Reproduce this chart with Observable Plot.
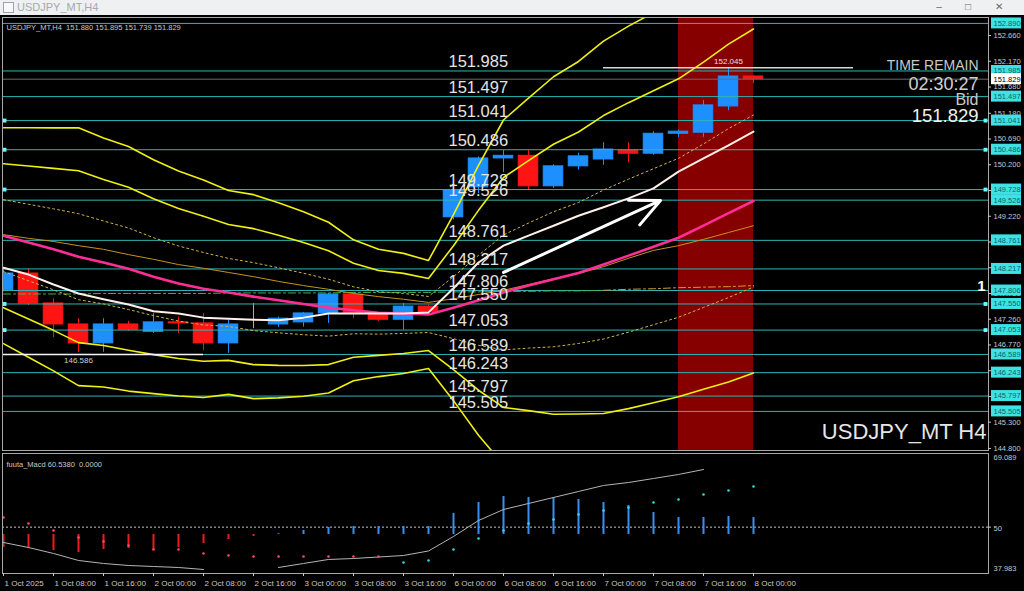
<!DOCTYPE html>
<html>
<head>
<meta charset="utf-8">
<script src="https://cdn.jsdelivr.net/npm/d3@7"></script>
<script src="https://cdn.jsdelivr.net/npm/@observablehq/plot@0.6"></script>
<style>
html,body{margin:0;padding:0;background:#000;width:1024px;height:591px;overflow:hidden;font-family:"Liberation Sans",Arial,sans-serif}
#tb{position:absolute;left:0;top:0;width:1024px;height:15px;background:#eef0f2;}
#ic{position:absolute;left:3px;top:2px;width:9px;height:9px;border:1px solid #9aa4b0;background:#f8f8f8}
#tt{position:absolute;left:17px;top:1px;font-size:11px;line-height:13px;color:#a4a9ae}
.bt{position:absolute;top:1px;width:22px;height:12px;font-size:10px;line-height:12px;text-align:center;color:#6a6a6a}
#main{position:absolute;left:0;top:15px}
#osc{position:absolute;left:0;top:452px}
</style>
</head>
<body>
<div id="tb">
  <div id="ic"></div>
  <div id="tt">USDJPY_MT,H4</div>
  <div class="bt" style="left:928px">&#8211;</div>
  <div class="bt" style="left:957px">&#9633;</div>
  <div class="bt" style="left:988px">&#10005;</div>
</div>
<div id="main"></div>
<div id="osc"></div>
<script>
// ---------- data (H4 bars, index 0 = 1 Oct 2025 00:00) ----------
const tickLabels = ["1 Oct 2025","1 Oct 08:00","1 Oct 16:00","2 Oct 00:00","2 Oct 08:00","2 Oct 16:00","3 Oct 00:00","3 Oct 08:00","3 Oct 16:00","6 Oct 00:00","6 Oct 08:00","6 Oct 16:00","7 Oct 00:00","7 Oct 08:00","7 Oct 16:00","8 Oct 00:00"];
const opens  = [147.81,148.13,147.56,147.16,146.80,147.16,147.02,147.20,147.18,146.80,147.18,147.16,147.20,147.37,147.73,147.35,147.25,147.50,149.20,149.77,150.32,150.37,149.79,150.17,150.30,150.47,150.41,150.79,150.81,151.31,151.880];
const highs  = [148.22,148.22,147.65,147.27,147.27,147.22,147.37,147.30,147.37,147.24,147.56,147.30,147.39,147.75,147.77,147.37,147.56,147.53,149.76,150.35,150.47,150.47,150.20,150.42,150.62,150.62,150.83,150.86,151.42,152.045,151.895];
const lows   = [147.78,147.52,146.91,146.63,146.63,147.03,146.99,146.99,146.66,146.61,147.08,147.10,147.11,147.18,147.27,147.22,147.05,147.35,149.15,149.65,150.05,149.72,149.75,150.10,150.19,150.24,150.38,150.72,150.72,151.23,151.739];
const closes = [148.13,147.56,147.16,146.80,147.16,147.06,147.20,147.18,146.80,147.16,147.18,147.27,147.37,147.73,147.37,147.25,147.50,147.40,149.71,150.32,150.37,149.79,150.17,150.36,150.49,150.41,150.79,150.83,151.33,151.88,151.829];

// Bollinger middle (magenta) and sigma
const bbMid   = [148.85,148.72,148.59,148.45,148.34,148.22,148.07,147.94,147.84,147.77,147.69,147.62,147.55,147.48,147.43,147.38,147.37,147.35,147.48,147.62,147.77,147.90,148.02,148.14,148.30,148.47,148.64,148.81,149.04,149.28,149.51];
const bbSigma = [0.685,0.728,0.771,0.818,0.790,0.776,0.742,0.714,0.690,0.647,0.647,0.619,0.585,0.542,0.447,0.404,0.381,0.343,0.590,0.856,1.094,1.190,1.285,1.342,1.418,1.456,1.485,1.513,1.556,1.608,1.637];
const maFast  = [148.24,148.11,147.92,147.75,147.64,147.54,147.41,147.37,147.29,147.27,147.25,147.24,147.29,147.37,147.37,147.37,147.37,147.39,147.85,148.34,148.66,148.85,149.04,149.23,149.39,149.56,149.75,150.07,150.32,150.57,150.83];
const maSlow  = [148.87,148.80,148.74,148.66,148.59,148.49,148.40,148.30,148.23,148.15,148.07,147.98,147.90,147.83,147.75,147.69,147.64,147.58,147.65,147.73,147.81,147.92,148.03,148.13,148.26,148.42,148.57,148.66,148.78,148.91,149.04];
const maLong  = [147.74,147.74,147.74,147.74,147.75,147.75,147.75,147.75,147.75,147.76,147.76,147.76,147.76,147.76,147.77,147.77,147.77,147.77,147.78,147.78,147.79,147.79,147.80,147.80,147.81,147.83,147.84,147.86,147.87,147.88,147.90];
const maLongTurn = 24;

const levels = [152.890,151.985,151.497,151.041,150.486,149.728,149.526,148.761,148.217,147.806,147.550,147.053,146.589,146.243,145.797,145.505];
const labelledLevels = levels.slice(1);
const markedLevels = [151.041,150.486,149.728,147.550,147.053];
const bidPrice = 151.829;
const yTicks = [152.660,152.170,151.680,151.180,150.690,150.200,149.710,149.220,148.730,148.240,147.750,147.260,146.770,146.280,145.790,145.300,144.800];
const redZone = [{from: 27, to: 30}];
const highLine = [{from: 24, to: 34, value: 152.045, labelAt: 29}];
const lowLine  = [{from: 0, to: 8, value: 146.586, labelAt: 3}];
const trendArrow = [{x1: 20, y1: 148.15, x2: 26.28, y2: 149.52}];
const infoText = "USDJPY_MT,H4  151.880 151.895 151.739 151.829";

// oscillator panel
const oscHist   = [44.72,44.47,43.95,43.43,44.21,44.47,43.95,44.72,45.76,46.80,47.58,48.30,49.13,49.91,50.17,50.17,50.17,50.17,53.54,56.39,57.94,57.68,57.68,57.17,56.39,55.61,53.80,52.50,52.50,52.76,52.50];
const histBase  = 48.1;
const oscSignal = [52.50,50.94,49.13,47.32,46.28,45.24,44.21,44.21,43.17,42.65,42.39,42.39,42.39,42.39,42.39,42.39,40.84,41.36,44.21,47.06,49.13,50.94,51.98,53.28,54.32,55.09,56.39,57.17,58.46,59.50,60.538];
const signalTurn = 16;
const oscLine   = [46.02,44.72,43.17,41.36,40.58,40.06,39.80,39.54,39.02,null,null,39.54,40.58,41.62,41.87,42.26,42.65,43.82,47.58,51.72,54.57,56.13,57.69,59.24,60.80,61.57,62.61,63.65,64.94,null,null];
const oscRange  = [37.983, 69.089];
const oscLabel  = "fuuta_Macd 60.5380  0.0000";

// ---------- build ----------
const X_DOMAIN = [-0.04, 39.4];
const X_MAX = X_DOMAIN[1];
const Y_DOMAIN = [144.761, 153.003];
const FONT = "Liberation Sans, Arial, sans-serif";

const bars = opens.map((o, i) => ({k: i, open: o, high: highs[i], low: lows[i], close: closes[i]}));
const candleColor = d => d.close > d.open ? "#1e8fff" : d.close < d.open ? "#ff1414" : "#8fb0d8";
const bb = bbMid.map((m, i) => ({k: i, mid: m, s: bbSigma[i]}));
const rows = arr => arr.map((v, i) => ({k: i, v}));

const YEL = "#f0f012", DOT = "#d2b448";
const bbLine = (n, opts) => Plot.line(bb, {x: "k", y: d => d.mid + n * d.s, clip: true, ...opts});

const main = Plot.plot({
  width: 1024, height: 437,
  marginLeft: 2, marginRight: 36, marginTop: 2, marginBottom: 2,
  x: {domain: X_DOMAIN, axis: null},
  y: {domain: Y_DOMAIN, axis: null},
  style: {background: "#000", color: "#c8c8c8", fontFamily: FONT, overflow: "visible"},
  marks: [
    Plot.rect(redZone, {x1: "from", x2: "to", fill: "#860000"}),
    Plot.ruleX(bars, {x: "k", y1: "low", y2: "high", stroke: candleColor, strokeWidth: 1, clip: true}),
    Plot.rect(bars, {x1: d => d.k - 0.39, x2: d => d.k + 0.39, y1: "open", y2: "close", fill: candleColor, stroke: candleColor, strokeWidth: 1, clip: true}),
    Plot.ruleY(levels, {stroke: "#2db5b5", strokeWidth: 1}),
    Plot.ruleY([bidPrice], {stroke: "#6c6c6c", strokeWidth: 1}),
    Plot.line(rows(maLong).filter(d => d.k <= maLongTurn), {x: "k", y: "v", stroke: "#4fb04f", strokeWidth: 1, strokeDasharray: "7,3,2,3"}),
    Plot.line(rows(maLong).filter(d => d.k >= maLongTurn), {x: "k", y: "v", stroke: "#d89a30", strokeWidth: 1, strokeDasharray: "7,3,2,3"}),
    Plot.line(rows(maSlow), {x: "k", y: "v", stroke: "#c8921e", strokeWidth: 1}),
    bbLine(1, {stroke: DOT, strokeWidth: 1, strokeDasharray: "2,3"}),
    bbLine(-1, {stroke: DOT, strokeWidth: 1, strokeDasharray: "2,3"}),
    bbLine(2, {stroke: YEL, strokeWidth: 1.6}),
    bbLine(-2, {stroke: YEL, strokeWidth: 1.6}),
    bbLine(3, {stroke: YEL, strokeWidth: 1.6}),
    bbLine(-3, {stroke: YEL, strokeWidth: 1.6}),
    bbLine(0, {stroke: "#ff2e96", strokeWidth: 2.6}),
    Plot.line(rows(maFast), {x: "k", y: "v", stroke: "#fff0ea", strokeWidth: 2}),
    // price marks
    Plot.ruleY(highLine, {y: "value", x1: "from", x2: "to", stroke: "#d8d8d8", strokeWidth: 1.5}),
    Plot.text(highLine, {x: "labelAt", y: "value", text: d => d.value.toFixed(3), dy: -6, fontSize: 8, fill: "#e0e0e0"}),
    Plot.ruleY(lowLine, {y: "value", x1: "from", x2: "to", stroke: "#f4f4f4", strokeWidth: 1.5}),
    Plot.text(lowLine, {x: "labelAt", y: "value", text: d => d.value.toFixed(3), dy: 6, fontSize: 8, fill: "#d0d0d0"}),
    Plot.arrow(trendArrow, {x1: "x1", y1: "y1", x2: "x2", y2: "y2", stroke: "#ffffff", strokeWidth: 3, headLength: 16, headAngle: 50}),
    Plot.text(labelledLevels, {x: 18, y: d => d, dx: -5, dy: -9, text: d => d.toFixed(3), textAnchor: "start", fontSize: 16.5, fill: "#e4e4e4"}),
    Plot.dot(markedLevels, {y: d => d, frameAnchor: "left", dx: 2, symbol: "square", r: 2.2, fill: "#6ff"}),
    Plot.dot(markedLevels, {y: d => d, frameAnchor: "right", dx: -3, symbol: "square", r: 2.2, fill: "#6ff"}),
    Plot.frame({stroke: "#a8a8a8"}),
    // right price axis
    Plot.ruleY(yTicks, {x1: X_MAX, x2: X_MAX, insetRight: -3, stroke: "#c8c8c8"}),
    Plot.text(yTicks, {x: X_MAX, y: d => d, dx: 5, text: d => d.toFixed(3), textAnchor: "start", fontSize: 7.5, fill: "#c8c8c8"}),
    Plot.rect(levels, {x1: X_MAX, x2: X_MAX, y1: d => d, y2: d => d, insetLeft: 3, insetRight: -33, insetTop: -5.5, insetBottom: -5.5, fill: "#3fe2e2"}),
    Plot.text(levels, {x: X_MAX, y: d => d, dx: 5, text: d => d.toFixed(3), textAnchor: "start", fontSize: 7.5, fill: "#0a6470"}),
    Plot.rect([bidPrice], {x1: X_MAX, x2: X_MAX, y1: d => d, y2: d => d, insetLeft: 3, insetRight: -33, insetTop: -5.5, insetBottom: -5.5, fill: "#ffffff"}),
    Plot.text([bidPrice], {x: X_MAX, y: d => d, dx: 5, text: d => d.toFixed(3), textAnchor: "start", fontSize: 7.5, fill: "#000"}),
    // texts
    Plot.text([infoText], {frameAnchor: "top-left", dx: 4, dy: 7, text: d => d, textAnchor: "start", fontSize: 7.5, fill: "#c8c8c8"}),
    Plot.text(["TIME REMAIN"], {frameAnchor: "top-right", dx: -10, dy: 43, text: d => d, textAnchor: "end", fontSize: 14, fill: "#c8c8c8"}),
    Plot.text(["02:30:27"], {frameAnchor: "top-right", dx: -10, dy: 60, text: d => d, textAnchor: "end", fontSize: 18, fill: "#d0d0d0"}),
    Plot.text(["Bid"], {frameAnchor: "top-right", dx: -10, dy: 76, text: d => d, textAnchor: "end", fontSize: 16, fill: "#c8c8c8"}),
    Plot.text([bidPrice], {frameAnchor: "top-right", dx: -10, dy: 91, text: d => d.toFixed(3), textAnchor: "end", fontSize: 18.5, fill: "#f0f0f0"}),
    Plot.text(["1"], {y: 147.806, frameAnchor: "right", dx: -3, dy: -4, text: d => d, textAnchor: "end", fontSize: 15, fontWeight: "bold", fill: "#ffffff"}),
    Plot.text(["USDJPY_MT H4"], {frameAnchor: "bottom-right", dx: -2, dy: -12, text: d => d, textAnchor: "end", fontSize: 22, fill: "#e6e6e6"})
  ]
});
document.getElementById("main").appendChild(main);

const xTickKs = tickLabels.map((_, i) => i * 2);
const osc = Plot.plot({
  width: 1024, height: 139,
  marginLeft: 2, marginRight: 36, marginTop: 1, marginBottom: 18,
  x: {domain: X_DOMAIN, axis: null},
  y: {domain: oscRange, axis: null},
  style: {background: "#000", color: "#c8c8c8", fontFamily: FONT, overflow: "visible"},
  marks: [
    Plot.ruleY([50], {stroke: "#c8c8c8", strokeDasharray: "2,2"}),
    Plot.ruleX(rows(oscHist), {x: "k", y1: histBase, y2: "v", stroke: d => d.v < histBase ? "#ee1c1c" : "#3a8ef2", strokeWidth: 2, clip: true}),
    Plot.line(rows(oscLine), {x: "k", y: "v", stroke: "#b4b4b4", strokeWidth: 1}),
    Plot.dot(rows(oscSignal), {x: "k", y: "v", r: 1.3, fill: d => d.k < signalTurn ? "#ff4a6a" : "#33d8d8"}),
    Plot.frame({stroke: "#a8a8a8"}),
    Plot.ruleY([50], {x1: X_MAX, x2: X_MAX, insetRight: -3, stroke: "#c8c8c8"}),
    Plot.text([50], {x: X_MAX, y: d => d, dx: 5, dy: 1, text: d => String(d), textAnchor: "start", fontSize: 7.5, fill: "#c8c8c8"}),
    Plot.text([oscRange[1]], {x: X_MAX, y: d => d, dx: 5, dy: 4, text: d => d.toFixed(3), textAnchor: "start", fontSize: 7.5, fill: "#c8c8c8"}),
    Plot.text([oscRange[0]], {x: X_MAX, y: d => d, dx: 5, dy: -5, text: d => d.toFixed(3), textAnchor: "start", fontSize: 7.5, fill: "#c8c8c8"}),
    Plot.ruleX(xTickKs, {x: d => d, y1: oscRange[0], y2: oscRange[0], insetBottom: -3, stroke: "#c8c8c8"}),
    Plot.text(xTickKs, {x: d => d, y: oscRange[0], dx: 1, dy: 10, text: (d, i) => tickLabels[i], textAnchor: "start", fontSize: 8, fill: "#c8c8c8"}),
    Plot.text([oscLabel], {frameAnchor: "top-left", dx: 4, dy: 8, text: d => d, textAnchor: "start", fontSize: 7.5, fill: "#c8c8c8"})
  ]
});
document.getElementById("osc").appendChild(osc);
</script>
</body>
</html>
